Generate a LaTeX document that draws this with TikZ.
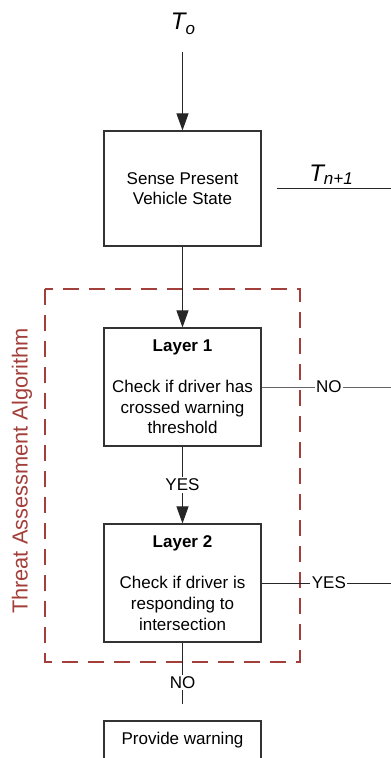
\documentclass[tikz,border=0pt]{standalone}
\usepackage{fontspec}
\setmainfont{Liberation Sans}
\usetikzlibrary{arrows.meta}
\definecolor{tared}{HTML}{A33F3A}
\definecolor{boxgray}{HTML}{333333}
\begin{document}
\begin{tikzpicture}[x=1pt,y=-1pt,
  stepbox/.style={draw=boxgray,line width=1.1pt,rectangle,minimum width=157pt,inner sep=0pt,align=center,
    font=\fontsize{17}{20.6}\selectfont},
  conn/.style={draw=black!85,line width=0.9pt},
  arr/.style={conn,-{Triangle[length=17pt,width=12pt]}},
  lbl/.style={fill=white,inner sep=1.5pt,font=\fontsize{17}{20}\selectfont},
  tlbl/.style={inner sep=0pt,font=\fontsize{24}{28}\selectfont\itshape}
]
\useasboundingbox (0,0) rectangle (391,758);
% dashed group
\draw[tared,line width=2.2pt,dash pattern=on 16pt off 10pt] (45,289) rectangle (300,662);
\node[rotate=90,text=tared,inner sep=0pt,font=\fontsize{21.8}{24}\selectfont] (ta) at (22,471) {Threat Assessment Algorithm};
% nodes
\node[tlbl] (to) at (183,24) {T\raisebox{-5pt}{\fontsize{17}{20}\selectfont o}};
\coordinate (tostart) at (182.5,52);
\node[stepbox,minimum height=115pt] (sense) at (182.5,188.5) {Sense Present\\Vehicle State};
\node[stepbox,minimum height=118pt] (l1) at (182.5,387) {\textbf{Layer 1}\\[20.6pt]Check if driver has\\crossed warning\\threshold};
\node[stepbox,minimum height=118pt] (l2) at (182.5,583) {\textbf{Layer 2}\\[20.6pt]Check if driver is\\responding to\\intersection};
\node[stepbox,minimum height=38pt] (pw) at (182.5,740) {Provide warning};
% T n+1
\node[tlbl,anchor=base] (tn) at (331,181) {T\raisebox{-3pt}{\fontsize{17}{20}\selectfont n+1}};
\coordinate (tnl) at (277,188);
\coordinate (tnr) at (391,188);
\draw[conn] (tnl) -- (tnr);
% connectors
\draw[arr] (tostart) -- (sense.north);
\draw[arr] (sense.south) -- (l1.north);
\draw[arr] (l1.south) -- node[lbl] {YES} (l2.north);
\coordinate (r1) at (391,387);
\coordinate (r2) at (391,583);
\draw[conn,draw=black!60] (l1.east) -- node[lbl,pos=0.52] {NO} (r1);
\draw[conn] (l2.east) -- node[lbl,pos=0.52] {YES} (r2);
\coordinate (nend) at (182.5,704);
\draw[conn] (l2.south) -- node[lbl,pos=0.645] {NO} (nend);
\end{tikzpicture}
\end{document}
